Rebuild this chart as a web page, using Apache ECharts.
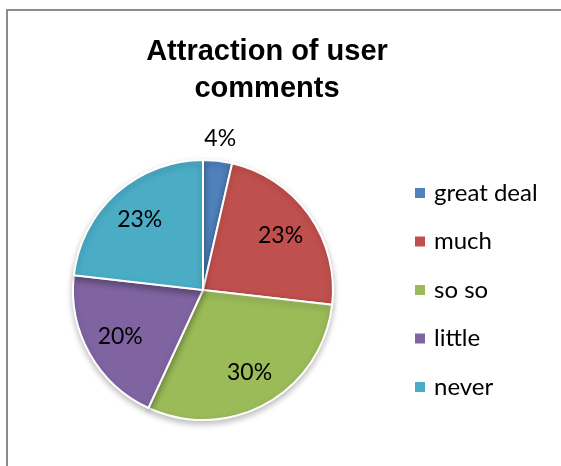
<!DOCTYPE html>
<html>
<head>
<meta charset="utf-8">
<script src="https://cdn.jsdelivr.net/npm/echarts@6/dist/echarts.min.js"></script>
<style>
html,body{margin:0;padding:0;background:#fff;}
#c{width:561px;height:466px;}
</style>
</head>
<body>
<div id="c"></div>
<script>
const categories = ['great deal', 'much', 'so so', 'little', 'never'];
const values = [3.6, 23.2, 30.1, 19.9, 23.2];
const colors = ['#4F81BD', '#C0504D', '#9BBB59', '#8064A2', '#4BACC6'];
const titleText = 'Attraction of user\ncomments';

const chart = echarts.init(document.getElementById('c'));
const center = [203, 290];
const baseData = categories.map((n, i) => ({ name: n, value: values[i], itemStyle: { color: colors[i] } }));
const labelFont = { fontFamily: 'Lato', fontSize: 23, color: '#000' };

chart.setOption({
  animation: false,
  color: colors,
  graphic: [{
    type: 'rect',
    shape: { x: 7, y: 10, width: 600, height: 500 },
    style: { fill: 'none', stroke: '#8c8c8c', lineWidth: 2 },
    silent: true, z: -10
  }],
  title: {
    text: titleText,
    left: 267, top: 33, padding: 0,
    textAlign: 'center',
    textStyle: { fontFamily: 'Liberation Sans', fontWeight: 'bold', fontSize: 29, lineHeight: 37, color: '#000' }
  },
  legend: {
    orient: 'vertical',
    left: 413, top: 181, padding: 0,
    itemWidth: 12, itemHeight: 12, itemGap: 24.5,
    icon: 'rect',
    selectedMode: false,
    data: categories,
    textStyle: { fontFamily: 'Lato', fontSize: 24, lineHeight: 24, color: '#000', padding: [0, 0, 0, 3] }
  },
  series: [
    {
      type: 'pie', center: center, radius: 130, startAngle: 90, clockwise: true,
      data: baseData,
      label: { show: false }, labelLine: { show: false },
      itemStyle: { borderColor: '#fff', borderWidth: 2, shadowBlur: 6, shadowOffsetY: 3, shadowColor: 'rgba(0,0,0,0.25)' },
      emphasis: { disabled: true }
    },
    {
      type: 'pie', center: center, radius: [54, 130], startAngle: 90, clockwise: true,
      silent: true, legendHoverLink: false, percentPrecision: 0,
      data: baseData.map((d, i) => ({ name: d.name, value: d.value, label: { show: i !== 0 } })),
      itemStyle: { color: 'rgba(0,0,0,0)' },
      label: Object.assign({ show: true, position: 'inner', formatter: '{d}%' }, labelFont),
      labelLine: { show: false },
      emphasis: { disabled: true }
    },
    {
      type: 'pie', center: center, radius: [131, 168], startAngle: 90, clockwise: true,
      silent: true, legendHoverLink: false, percentPrecision: 0,
      data: baseData.map((d, i) => ({ name: d.name, value: d.value, label: { show: i === 0 } })),
      itemStyle: { color: 'rgba(0,0,0,0)' },
      label: Object.assign({ show: true, position: 'inner', formatter: '{d}%' }, labelFont),
      labelLine: { show: false },
      emphasis: { disabled: true }
    }
  ]
});
</script>
</body>
</html>
